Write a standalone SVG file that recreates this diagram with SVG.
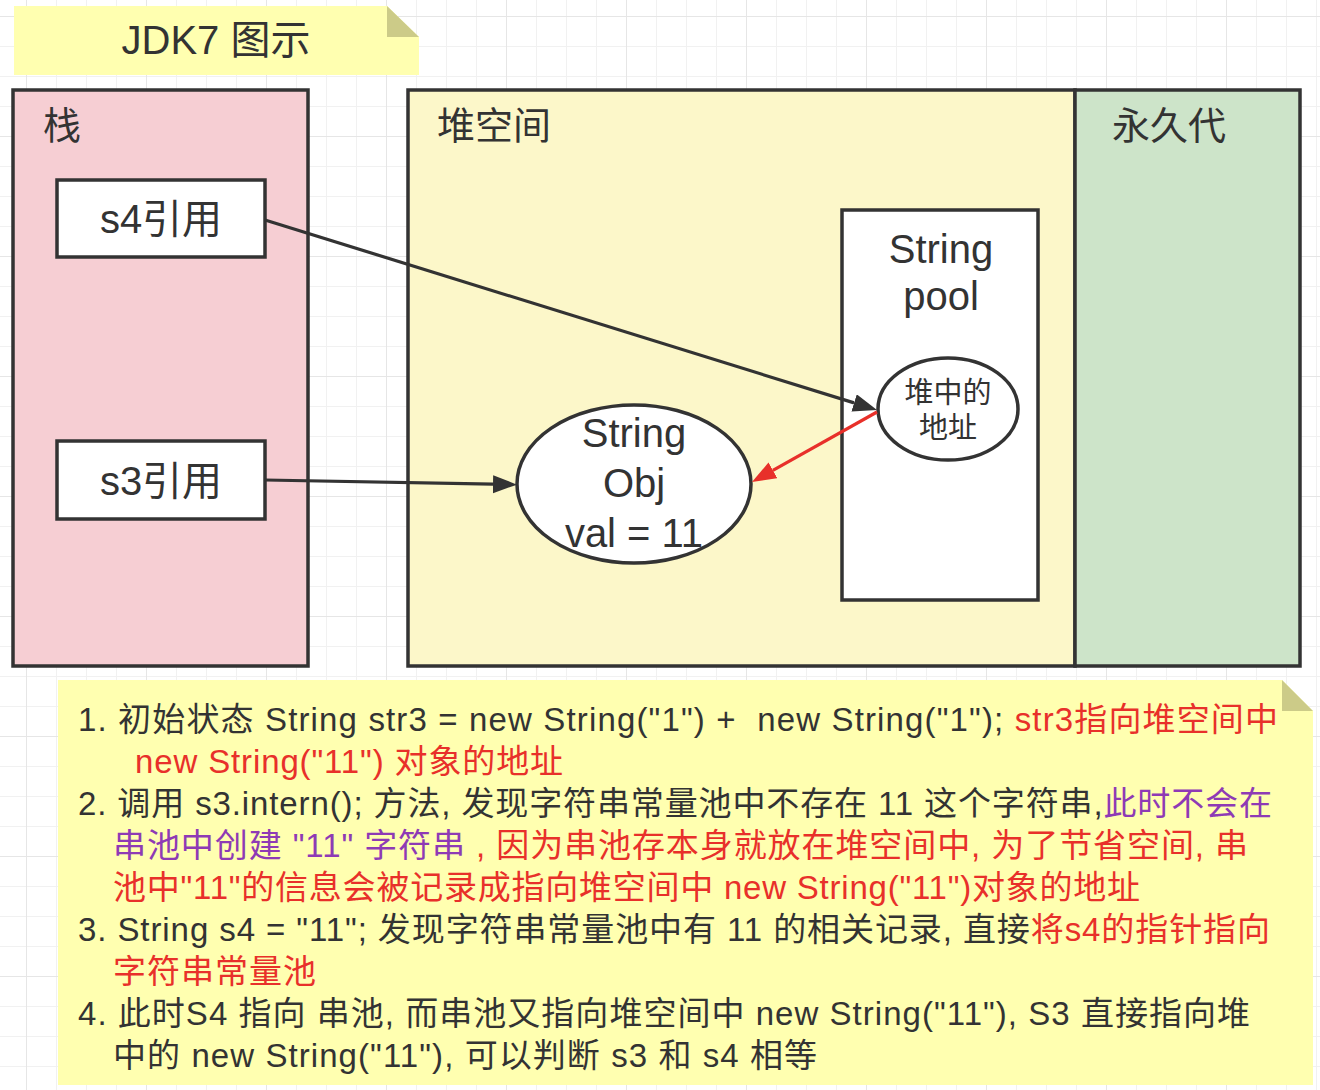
<svg xmlns="http://www.w3.org/2000/svg" width="1320" height="1090" viewBox="0 0 1320 1090">
<style>
text{font-family:"Liberation Sans","Noto Sans CJK SC",sans-serif;fill:#333333}
.big{font-size:40px}
.lbl{font-size:38px}
.mid{font-size:29px}
.note{font-size:33px}
.box{stroke:#333333;stroke-width:3.5}
.red{fill:#e8302a}
.pur{fill:#8e3ab5}
.conn{fill:none;stroke-width:3.2}
</style>
<defs>
<pattern id="grid" patternUnits="userSpaceOnUse" x="26" y="16" width="120" height="120">
<path d="M30.5,0V120M60.5,0V120M90.5,0V120M0,30.5H120M0,60.5H120M0,90.5H120" stroke="#f1f1f1" stroke-width="1" fill="none"/>
<path d="M0.5,0V120M0,0.5H120" stroke="#e6e6e6" stroke-width="1" fill="none"/>
</pattern>
<marker id="ahd" markerUnits="userSpaceOnUse" markerWidth="26" markerHeight="20" refX="0" refY="9" orient="auto"><path d="M0,0 L24,9 L0,18 z" fill="#333333"/></marker>
<marker id="ahr" markerUnits="userSpaceOnUse" markerWidth="26" markerHeight="20" refX="0" refY="9" orient="auto"><path d="M0,0 L24,9 L0,18 z" fill="#e8302a"/></marker>
</defs>
<rect width="1320" height="1090" fill="#ffffff"/>
<rect width="1320" height="1090" fill="url(#grid)"/>

<g id="title">
<polygon points="14,6 387,6 419,37 419,75 14,75" fill="#ffffb0"/>
<polygon points="387,6 387,37 419,37" fill="#cccb88"/>
<text class="big" x="216" y="54" text-anchor="middle">JDK7 图示</text>
</g>

<g id="stack">
<rect class="box" x="13" y="90" width="295" height="576" fill="#f6ced3"/>
<text class="lbl" x="43" y="139">栈</text>
</g>
<g id="heap">
<rect class="box" x="408" y="90" width="667" height="576" fill="#fcf7c9"/>
<text class="lbl" x="437" y="139">堆空间</text>
</g>
<g id="permgen">
<rect class="box" x="1075" y="90" width="225" height="576" fill="#cde4c9"/>
<text class="lbl" x="1112" y="139">永久代</text>
</g>

<g id="s4ref">
<rect class="box" x="57" y="180" width="208" height="77" fill="#ffffff"/>
<text class="big" x="161" y="233" text-anchor="middle">s4引用</text>
</g>
<g id="s3ref">
<rect class="box" x="57" y="441" width="208" height="78" fill="#ffffff"/>
<text class="big" x="161" y="495" text-anchor="middle">s3引用</text>
</g>

<g id="stringpool">
<rect class="box" x="842" y="210" width="196" height="390" fill="#ffffff"/>
<text class="big" x="941" y="263" text-anchor="middle">String</text>
<text class="big" x="941" y="310" text-anchor="middle">pool</text>
</g>

<g id="pooladdr">
<ellipse class="box" cx="948" cy="409" rx="70" ry="51" fill="#ffffff"/>
<text class="mid" x="948" y="403" text-anchor="middle">堆中的</text>
<text class="mid" x="948" y="438" text-anchor="middle">地址</text>
</g>

<g id="stringobj">
<ellipse class="box" cx="634" cy="484" rx="117" ry="79" fill="#ffffff"/>
<text class="big" x="634" y="447" text-anchor="middle">String</text>
<text class="big" x="634" y="497" text-anchor="middle">Obj</text>
<text class="big" x="634" y="547" text-anchor="middle">val = 11</text>
</g>

<g id="connectors">
<path class="conn" d="M265,220 L854.1,402.9" stroke="#333333" marker-end="url(#ahd)"/>
<path class="conn" d="M265,480 L493,484.2" stroke="#333333" marker-end="url(#ahd)"/>
<path class="conn" d="M877,412 L772.9,470.3" stroke="#e8302a" marker-end="url(#ahr)"/>
</g>

<g id="explain">
<polygon points="58,680 1282,680 1313,711 1313,1085 58,1085" fill="#ffffb0"/>
<polygon points="1282,680 1282,711 1313,711" fill="#cccb88"/>
<text class="note" x="78" y="731" textLength="1200" lengthAdjust="spacing">1. 初始状态 String str3 = new String("1") +&#160; new String("1"); <tspan class="red">str3指向堆空间中</tspan></text>
<text class="note red" x="135" y="773" textLength="428" lengthAdjust="spacing">new String("11") 对象的地址</text>
<text class="note" x="78" y="815" textLength="1194" lengthAdjust="spacing">2. 调用 s3.intern(); 方法, 发现字符串常量池中不存在 11 这个字符串,<tspan class="pur">此时不会在</tspan></text>
<text class="note" x="113" y="857" textLength="1135" lengthAdjust="spacing"><tspan class="pur">串池中创建 "11" 字符串</tspan><tspan class="red"> , 因为串池存本身就放在堆空间中, 为了节省空间, 串</tspan></text>
<text class="note red" x="113" y="899" textLength="1027" lengthAdjust="spacing">池中"11"的信息会被记录成指向堆空间中 new String("11")对象的地址</text>
<text class="note" x="78" y="941" textLength="1192" lengthAdjust="spacing">3. String s4 = "11"; 发现字符串常量池中有 11 的相关记录, 直接<tspan class="red">将s4的指针指向</tspan></text>
<text class="note red" x="113" y="983" textLength="203" lengthAdjust="spacing">字符串常量池</text>
<text class="note" x="78" y="1025" textLength="1172" lengthAdjust="spacing">4. 此时S4 指向 串池, 而串池又指向堆空间中 new String("11"), S3 直接指向堆</text>
<text class="note" x="113" y="1067" textLength="704" lengthAdjust="spacing">中的 new String("11"), 可以判断 s3 和 s4 相等</text>
</g>
</svg>
